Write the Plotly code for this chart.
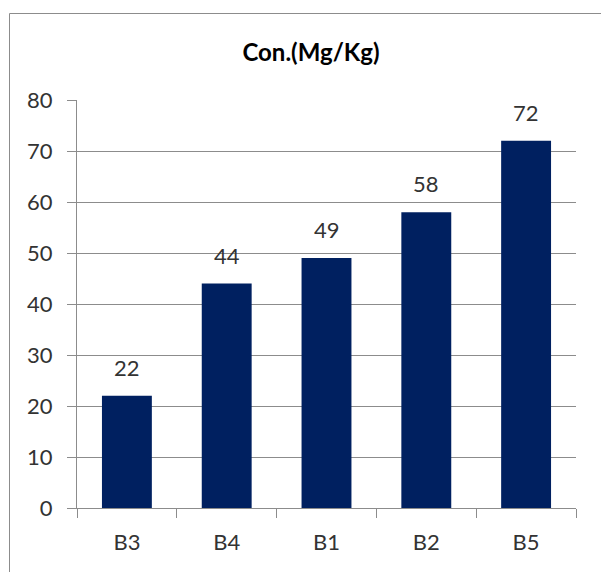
import plotly.graph_objects as go

categories = ["B3", "B4", "B1", "B2", "B5"]
values = [22, 44, 49, 58, 72]
y_ticks = [0, 10, 20, 30, 40, 50, 60, 70, 80]

W, H = 601, 572
L, R, T, B = 77, 25, 100, 64
pw = W - L - R
ph = H - T - B

fig = go.Figure(go.Bar(
    x=categories, y=values,
    marker=dict(color="#002060", line=dict(width=0)),
    cliponaxis=False,
    hoverinfo="x+y",
))

for c, v in zip(categories, values):
    fig.add_annotation(x=c, y=v, text=str(v), showarrow=False, yanchor="bottom",
                       yshift=13, font=dict(family="Lato", size=22, color="#333333"))

fig.update_layout(
    width=W, height=H,
    margin=dict(l=L, r=R, t=T, b=B),
    paper_bgcolor="white", plot_bgcolor="white",
    bargap=0.5,
    showlegend=False,
    title=dict(text="<b>Con.(Mg/Kg)</b>", x=(311 / W), xanchor="center",
               y=1 - 53 / H, yanchor="middle", yref="container",
               font=dict(family="Lato", size=24, color="#000000")),
    font=dict(family="Lato", size=22, color="#333333"),
)
fig.update_yaxes(range=[0, 80], tickvals=y_ticks, showgrid=True, gridcolor="#8c8c8c", gridwidth=1,
                 showline=True, linecolor="#8c8c8c", linewidth=1,
                 ticks="outside", ticklen=9, tickcolor="#8c8c8c", zeroline=False, ticklabelstandoff=10)
fig.update_xaxes(showline=True, linecolor="#8c8c8c", linewidth=1, ticks="outside", ticklen=9,
                 tickcolor="#8c8c8c", tickson="boundaries", showgrid=False, ticklabelstandoff=15)

# outer chart border (left and top visible)
x0 = (9.5 - L) / pw
y1 = (H - B - 13.5) / ph
fig.add_shape(type="rect", xref="paper", yref="paper", x0=x0, x1=1.5, y0=-0.5, y1=y1,
              line=dict(color="#8c8c8c", width=1), fillcolor="rgba(0,0,0,0)", layer="below")

fig.write_html("out.html", config={"displayModeBar": False},
               post_script="document.body.style.margin='0';")
